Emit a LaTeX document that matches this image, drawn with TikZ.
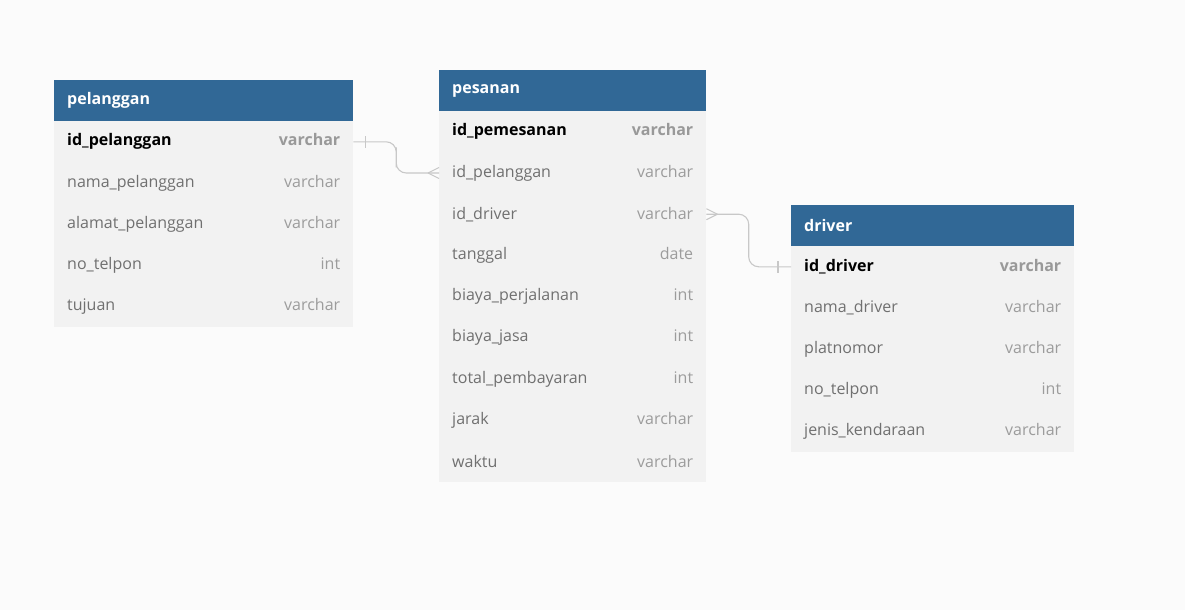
\documentclass[tikz,border=0pt]{standalone}
\usepackage{fontspec}
\setmainfont{Open Sans}
\usepackage{xcolor}
\usepackage{tikz}
\usetikzlibrary{calc}

\definecolor{canvas}{HTML}{FBFBFB}
\definecolor{headblue}{HTML}{316896}
\definecolor{rowgray}{HTML}{F2F2F2}
\definecolor{pkgray}{HTML}{999999}
\definecolor{fldgray}{HTML}{707070}
\definecolor{typgray}{HTML}{9C9C9C}
\definecolor{relgray}{HTML}{C8C8C8}

\newcommand{\pkfld}[1]{{\bfseries\color{black}#1}}
\newcommand{\pktyp}[1]{{\bfseries\color{pkgray}#1}}
\newcommand{\fld}[1]{{\color{fldgray}#1}}
\newcommand{\typ}[1]{{\color{typgray}#1}}

\tikzset{
    tblhead/.style={anchor=north west, fill=headblue, text=white,
        font=\bfseries\fontsize{16}{19}\selectfont, inner xsep=13pt, inner ysep=0pt,
        minimum height=41.2pt, text width=#1, align=left},
    tblrow/.style={anchor=north west, fill=rowgray,
        font=\fontsize{16}{19}\selectfont, inner xsep=13pt, inner ysep=0pt,
        minimum height=41.2pt, text width=#1, align=left},
    rel/.style={draw=relgray, line width=1.1pt},
}

\begin{document}
\begin{tikzpicture}[x=1pt,y=-1pt]
    \fill[canvas] (0,0) rectangle (1185,610);
    \useasboundingbox (0,0) rectangle (1185,610);

    % pelanggan
    \node[tblhead=273pt] (pel-head) at (54,80) {pelanggan};
    \node[tblrow=273pt] (pel-r1) at (54,121) {\pkfld{id\_pelanggan}\hfill\pktyp{varchar}};
    \foreach \f/\t [count=\i from 2] in {nama\_pelanggan/varchar, alamat\_pelanggan/varchar,
            no\_telpon/int, tujuan/varchar}
        \node[tblrow=273pt] (pel-r\i) at (54,{121+(\i-1)*41.2}) {\fld{\f}\hfill\typ{\t}};

    % pesanan
    \node[tblhead=241pt] (pes-head) at (439,70) {pesanan};
    \node[tblrow=241pt] (pes-r1) at (439,111) {\pkfld{id\_pemesanan}\hfill\pktyp{varchar}};
    \foreach \f/\t [count=\i from 2] in {id\_pelanggan/varchar, id\_driver/varchar,
            tanggal/date, biaya\_perjalanan/int, biaya\_jasa/int,
            total\_pembayaran/int, jarak/varchar, waktu/varchar}
        \node[tblrow=241pt] (pes-r\i) at (439,{111+(\i-1)*41.2}) {\fld{\f}\hfill\typ{\t}};

    % driver
    \node[tblhead=257pt] (drv-head) at (791,205) {driver};
    \node[tblrow=257pt] (drv-r1) at (791,246) {\pkfld{id\_driver}\hfill\pktyp{varchar}};
    \foreach \f/\t [count=\i from 2] in {nama\_driver/varchar, platnomor/varchar,
            no\_telpon/int, jenis\_kendaraan/varchar}
        \node[tblrow=257pt] (drv-r\i) at (791,{246+(\i-1)*41.2}) {\fld{\f}\hfill\typ{\t}};

    % relations
    \draw[rel, rounded corners=10pt] (pel-r1.east)
        -| ($(pel-r1.east)!0.5!(pes-r2.west)$) |- (pes-r2.west);
    \draw[rel] ([xshift=12pt,yshift=-6pt]pel-r1.east) -- ([xshift=12pt,yshift=6pt]pel-r1.east);
    \draw[rel] ([xshift=-11pt]pes-r2.west) -- ([yshift=5.5pt]pes-r2.west);
    \draw[rel] ([xshift=-11pt]pes-r2.west) -- ([yshift=-5.5pt]pes-r2.west);

    \draw[rel, rounded corners=10pt] (pes-r3.east)
        -| ($(pes-r3.east)!0.5!(drv-r1.west)$) |- (drv-r1.west);
    \draw[rel] ([xshift=11pt]pes-r3.east) -- ([yshift=5.5pt]pes-r3.east);
    \draw[rel] ([xshift=11pt]pes-r3.east) -- ([yshift=-5.5pt]pes-r3.east);
    \draw[rel] ([xshift=-13pt,yshift=-6pt]drv-r1.west) -- ([xshift=-13pt,yshift=6pt]drv-r1.west);
\end{tikzpicture}
\end{document}
